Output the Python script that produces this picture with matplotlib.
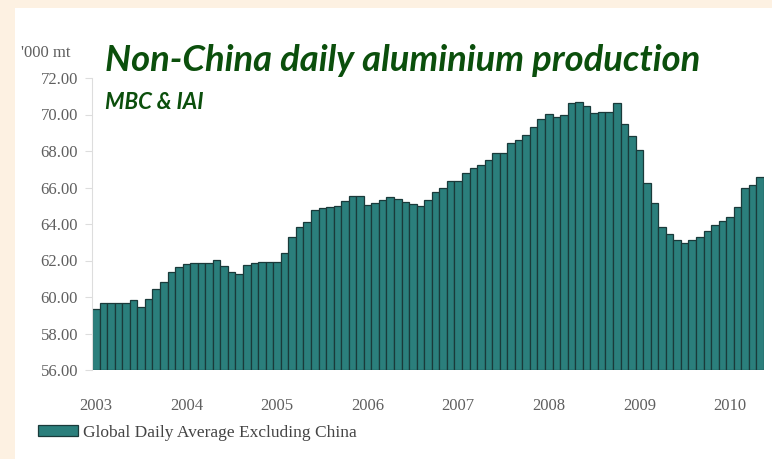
import matplotlib.pyplot as plt
from matplotlib.patches import Patch, Rectangle

# monthly averages, Jan 2003 - May 2010 ('000 mt per day)
values_2003 = [59.33, 59.65, 59.65, 59.65, 59.65, 59.82, 59.47, 59.90, 60.46, 60.84, 61.39, 61.65]
values_2004 = [61.83, 61.87, 61.87, 61.87, 62.01, 61.70, 61.39, 61.24, 61.73, 61.85, 61.93, 61.93]
values_2005 = [61.93, 62.43, 63.30, 63.85, 64.13, 64.77, 64.90, 64.95, 64.98, 65.28, 65.55, 65.55]
values_2006 = [65.04, 65.17, 65.30, 65.46, 65.35, 65.20, 65.10, 64.98, 65.30, 65.77, 65.95, 66.36]
values_2007 = [66.36, 66.81, 67.05, 67.23, 67.50, 67.91, 67.91, 68.42, 68.60, 68.88, 69.33, 69.76]
values_2008 = [70.02, 69.88, 69.97, 70.63, 70.69, 70.47, 70.10, 70.13, 70.13, 70.62, 69.49, 68.80]
values_2009 = [68.03, 66.23, 65.13, 63.85, 63.47, 63.10, 62.94, 63.12, 63.30, 63.60, 63.97, 64.18]
values_2010 = [64.40, 64.91, 65.95, 66.14, 66.56]

years = ["2003", "2004", "2005", "2006", "2007", "2008", "2009", "2010"]
y_ticks = [56, 58, 60, 62, 64, 66, 68, 70, 72]
series_label = "Global Daily Average Excluding China"

values = (values_2003 + values_2004 + values_2005 + values_2006
          + values_2007 + values_2008 + values_2009 + values_2010)
months = list(range(len(values)))
base = 56.0

fig = plt.figure(figsize=(7.72, 4.59), dpi=100)
fig.patch.set_facecolor("#fdf1e2")
# white panel behind everything
fig.patches.append(Rectangle((15 / 772, 0), 1, 1 - 8 / 459, transform=fig.transFigure,
                             facecolor="white", edgecolor="none", zorder=-5))

ax = fig.add_axes([92 / 772, 1 - 370 / 459, 672 / 772, 292 / 459])
ax.set_facecolor("none")
ax.set_zorder(2)

bar_color = "#2b7f7c"
edge_color = "#1a3a3a"
ax.bar(months, [v - base for v in values], bottom=base, width=1.0,
       color=bar_color, edgecolor=edge_color, linewidth=0.9)

ax.set_xlim(-0.5, len(values) - 0.5)
ax.set_ylim(56, 72)
ax.set_yticks(y_ticks)
ax.set_yticklabels([f"{t:.2f}" for t in y_ticks])
ax.set_xticks([12 * i for i in range(len(years))])
ax.set_xticklabels(years)

serif = ["Liberation Serif", "DejaVu Serif"]
for lab in ax.get_yticklabels() + ax.get_xticklabels():
    lab.set_family(serif)
    lab.set_fontsize(12)
    lab.set_color("#5f5f5f")

ax.tick_params(axis="x", length=0, pad=20)
ax.tick_params(axis="y", length=5, color="#dddddd", pad=5)
for side in ["top", "right", "bottom"]:
    ax.spines[side].set_visible(False)
ax.spines["left"].set_color("#dddddd")
ax.spines["left"].set_linewidth(0.8)

fig.text(21 / 772, 1 - 53 / 459, "'000 mt", family=serif, fontsize=12,
         color="#5f5f5f", ha="left", va="center")

fig.text(105 / 772, 1 - 71 / 459, "Non-China daily aluminium production",
         family=["Lato", "DejaVu Sans"], fontweight="bold", fontstyle="italic",
         fontsize=26.2, color="#0b4f0c", ha="left", va="baseline")
fig.text(105 / 772, 1 - 109 / 459, "MBC & IAI",
         family=["Lato", "DejaVu Sans"], fontweight="bold", fontstyle="italic",
         fontsize=16, color="#0b4f0c", ha="left", va="baseline")

handle = Patch(facecolor=bar_color, edgecolor=edge_color, linewidth=0.9)
leg = fig.legend(handles=[handle], labels=[series_label], loc="center left",
                 bbox_to_anchor=(22 / 772, 1 - 433 / 459), frameon=False,
                 handlelength=2.3, handleheight=0.6, handletextpad=0.33,
                 prop={"family": serif, "size": 12.5})
for t in leg.get_texts():
    t.set_color("#444444")

fig.savefig("out.png", dpi=100, facecolor=fig.get_facecolor())
